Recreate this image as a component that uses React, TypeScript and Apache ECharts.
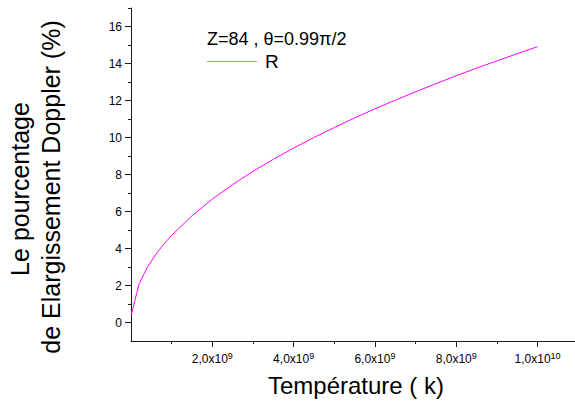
import React, { useEffect, useRef } from "react";
import * as echarts from "echarts";

// Temperature (K) and Doppler broadening percentage
const temperatures = [
  1e7, 2e8, 4e8, 6e8, 8e8, 1e9, 1.5e9, 2e9, 2.5e9, 3e9, 3.5e9, 4e9, 4.5e9, 5e9,
  5.5e9, 6e9, 6.5e9, 7e9, 7.5e9, 8e9, 8.5e9, 9e9, 9.5e9, 1e10,
];
const percentR = [
  0.45, 2.09, 2.98, 3.65, 4.22, 4.71, 5.77, 6.67, 7.46, 8.17, 8.82, 9.43, 10.0,
  10.54, 11.06, 11.55, 12.02, 12.47, 12.91, 13.34, 13.75, 14.14, 14.53, 14.91,
];
const xMajorTicks = [2e9, 4e9, 6e9, 8e9, 1e10];
const xMinorTicks = [1e9, 3e9, 5e9, 7e9, 9e9];
const yMajorTicks = [0, 2, 4, 6, 8, 10, 12, 14, 16];
const yMinorTicks = [1, 3, 5, 7, 9, 11, 13, 15, 17];
const seriesName = "R";
const annotation = "Z=84 , \u03b8=0.99\u03c0/2";
const xTitle = "Temp\u00e9rature ( k)";
const yTitle1 = "Le pourcentage";
const yTitle2 = "de Elargissement Doppler (%)";

const FONT = "'Liberation Sans', Arial, sans-serif";
const AXIS = "#1a1a1a";

export default function App() {
  const ref = useRef<HTMLDivElement>(null);
  useEffect(() => {
    if (!ref.current) return;
    const chart = echarts.init(ref.current, null, { renderer: "svg" });
    const xFmt = (v: number) => {
      const e = Math.floor(Math.log10(v) + 1e-9);
      const m = v / Math.pow(10, e);
      return `{b|${m.toFixed(1).replace(".", ",")}x10}{s|${e}}`;
    };
    chart.setOption({
      animation: false,
      backgroundColor: "#ffffff",
      textStyle: { fontFamily: FONT },
      grid: { left: 131, right: 0, top: 8, bottom: 71, containLabel: false },
      legend: {
        show: true,
        left: 207,
        top: 52,
        padding: 0,
        itemWidth: 50,
        itemHeight: 20,
        symbolKeepAspect: true,
        data: [{ name: seriesName, icon: "path://M0,0L50,0L50,1L0,1Z" }],
        itemStyle: { color: "#ff66ff" },
        textStyle: { fontFamily: FONT, fontSize: 19, color: "#000", padding: [0, 0, 0, 3] },
      },
      xAxis: [
        {
          type: "value",
          min: 0,
          max: 1.092e10,
          splitLine: { show: false },
          axisLine: { show: true, onZero: false, lineStyle: { color: AXIS, width: 1 } },
          axisTick: { show: true, customValues: xMajorTicks, length: 6, lineStyle: { color: AXIS } },
          axisLabel: {
            customValues: xMajorTicks,
            margin: 10,
            formatter: xFmt,
            rich: {
              b: { fontFamily: FONT, fontSize: 12, color: "#000", lineHeight: 14, verticalAlign: "bottom" },
              s: { fontFamily: FONT, fontSize: 9, color: "#000", lineHeight: 9, verticalAlign: "top" },
            },
          },
        },
        {
          type: "value",
          min: 0,
          max: 1.092e10,
          position: "bottom",
          splitLine: { show: false },
          axisLine: { show: false, onZero: false },
          axisTick: { show: true, customValues: xMinorTicks, length: 3, lineStyle: { color: AXIS } },
          axisLabel: { show: false },
        },
      ],
      yAxis: [
        {
          type: "value",
          min: -1,
          max: 17,
          splitLine: { show: false },
          axisLine: { show: true, onZero: false, lineStyle: { color: AXIS, width: 1 } },
          axisTick: { show: true, customValues: yMajorTicks, length: 6, lineStyle: { color: AXIS } },
          axisLabel: {
            customValues: yMajorTicks,
            margin: 9,
            fontFamily: FONT,
            fontSize: 12,
            color: "#000",
          },
        },
        {
          type: "value",
          min: -1,
          max: 17,
          position: "left",
          splitLine: { show: false },
          axisLine: { show: false, onZero: false },
          axisTick: { show: true, customValues: yMinorTicks, length: 3, lineStyle: { color: AXIS } },
          axisLabel: { show: false },
        },
      ],
      graphic: [
        {
          type: "text",
          x: 207,
          y: 39,
          style: {
            text: annotation,
            font: `18px ${FONT}`,
            fill: "#000",
            align: "left",
            verticalAlign: "middle",
            textAlign: "left",
            textVerticalAlign: "middle",
          },
        },
        {
          type: "text",
          x: 356,
          y: 385,
          style: {
            text: xTitle,
            font: `24px ${FONT}`,
            fill: "#000",
            align: "center",
            verticalAlign: "middle",
            textAlign: "center",
            textVerticalAlign: "middle",
          },
        },
        {
          type: "text",
          x: 19.5,
          y: 189,
          rotation: Math.PI / 2,
          style: {
            text: yTitle1,
            font: `25px ${FONT}`,
            fill: "#000",
            align: "center",
            verticalAlign: "middle",
            textAlign: "center",
            textVerticalAlign: "middle",
          },
        },
        {
          type: "text",
          x: 50.5,
          y: 187,
          rotation: Math.PI / 2,
          style: {
            text: yTitle2,
            font: `25px ${FONT}`,
            fill: "#000",
            align: "center",
            verticalAlign: "middle",
            textAlign: "center",
            textVerticalAlign: "middle",
          },
        },
      ],
      series: [
        {
          name: seriesName,
          type: "line",
          xAxisIndex: 0,
          yAxisIndex: 0,
          symbol: "none",
          showSymbol: false,
          smooth: false,
          lineStyle: { color: "#ff00ff", width: 1 },
          itemStyle: { color: "#ff00ff" },
          data: temperatures.map((t, i) => [t, percentR[i]]),
        },
      ],
    });
    return () => chart.dispose();
  }, []);
  return (
    <div
      ref={ref}
      style={{ position: "fixed", left: 0, top: 0, width: 575, height: 412 }}
    />
  );
}
